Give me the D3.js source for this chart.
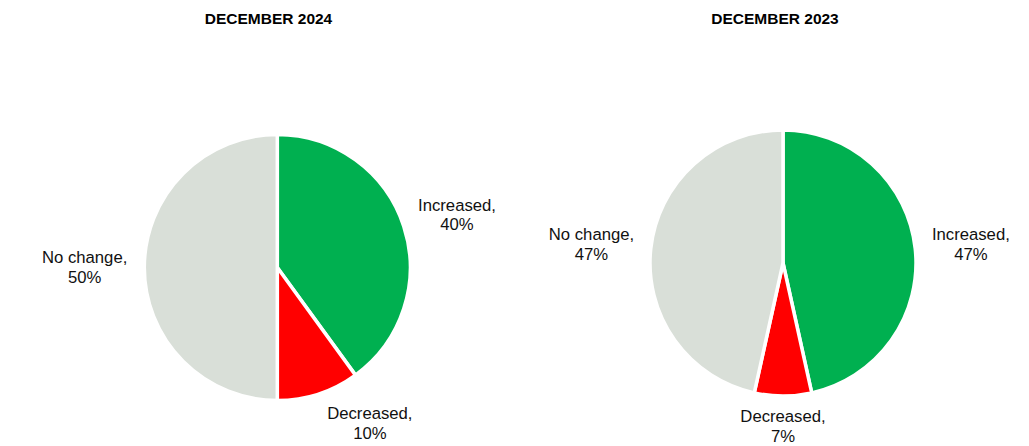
<!DOCTYPE html>
<html>
<head>
<meta charset="utf-8">
<script src="https://cdn.jsdelivr.net/npm/d3@7"></script>
<style>
  html, body { margin: 0; padding: 0; background: #ffffff; }
  svg { display: block; font-family: "Liberation Sans", Arial, sans-serif; }
</style>
</head>
<body>
<svg id="chart" width="1029" height="446"></svg>
<script>
// Survey responses: share of respondents per answer
const categories = ["Increased", "Decreased", "No change"];
const panelTitles = ["DECEMBER 2024", "DECEMBER 2023"];
const values2024 = [40, 10, 50];
const values2023 = [47, 7, 47];

const colors = d3.scaleOrdinal()
  .domain(categories)
  .range(["#00b050", "#ff0000", "#d9dfd8"]);

const W = 1029, H = 446;
const svg = d3.select("#chart");

// Panel geometry
const panels = [
  { title: panelTitles[0], values: values2024, cx: 277.3, cy: 267.5, titleX: 268.5,
    nudge: { "Decreased": [33, -5] } },
  { title: panelTitles[1], values: values2023, cx: 783, cy: 263, titleX: 775,
    nudge: { "Decreased": [0, -6] } }
];
const radius = 133;
const labelGap = 17;
const lineStep = 19.5;

const pie = d3.pie().sort(null).value(d => d.value);
const arc = d3.arc().innerRadius(0).outerRadius(radius);

panels.forEach(p => {
  const data = categories.map((c, i) => ({ category: c, value: p.values[i] }));

  svg.append("text")
    .attr("x", p.titleX)
    .attr("y", 24)
    .attr("text-anchor", "middle")
    .attr("font-size", 15.5)
    .attr("font-weight", "bold")
    .attr("fill", "#000")
    .text(p.title);

  const g = svg.append("g").attr("transform", `translate(${p.cx},${p.cy})`);

  g.selectAll("path")
    .data(pie(data))
    .join("path")
    .attr("d", arc)
    .attr("fill", d => colors(d.data.category))
    .attr("stroke", "#ffffff")
    .attr("stroke-width", 3.5)
    .attr("stroke-linejoin", "round");

  // Outside labels: "Category," / "NN%"
  pie(data).forEach(d => {
    const a = (d.startAngle + d.endAngle) / 2;
    const s = Math.sin(a), c = Math.cos(a);
    const t = g.append("text")
      .attr("text-anchor", "middle")
      .attr("font-size", 16.7)
      .attr("fill", "#111");
    const l1 = t.append("tspan").text(d.data.category + ",");
    const l2 = t.append("tspan").text(d.data.value + "%");
    const hw = Math.max(l1.node().getComputedTextLength(), l2.node().getComputedTextLength()) / 2;
    const hh = lineStep;
    const R = radius + labelGap;
    const nd = p.nudge[d.data.category] || [0, 0];
    const x = R * s + hw * s + nd[0];
    const y = -R * c - hh * c + nd[1];
    l1.attr("x", x).attr("y", y - lineStep / 2).attr("dominant-baseline", "central");
    l2.attr("x", x).attr("y", y + lineStep / 2).attr("dominant-baseline", "central");
  });
});
</script>
</body>
</html>
